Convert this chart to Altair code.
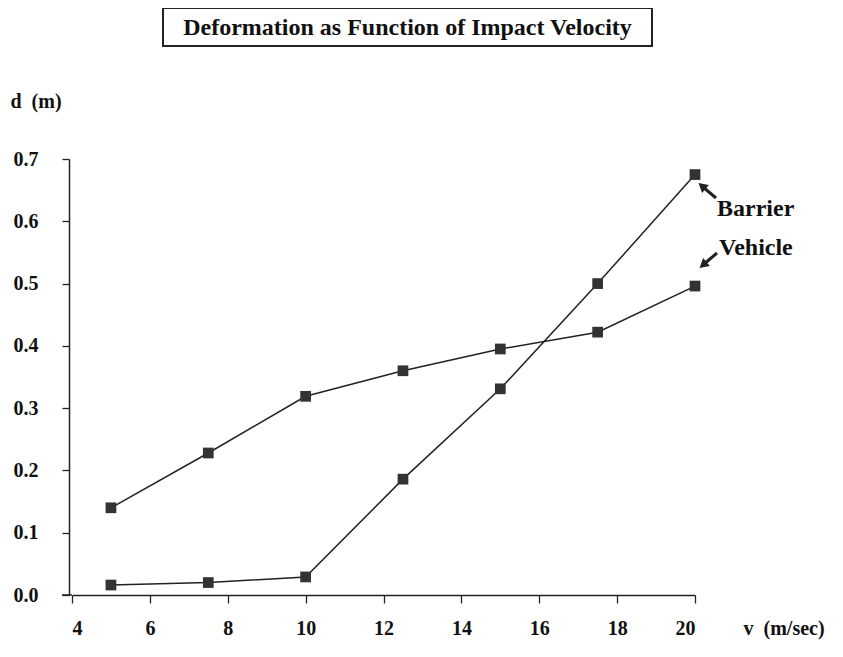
import altair as alt
import pandas as pd

velocity = [5, 7.5, 10, 12.5, 15, 17.5, 20]
vehicle = [0.14, 0.228, 0.319, 0.36, 0.395, 0.422, 0.496]
barrier = [0.016, 0.02, 0.029, 0.186, 0.331, 0.5, 0.675]

rows = []
for v, a, b in zip(velocity, vehicle, barrier):
    rows.append({"v": v, "d": a, "series": "Vehicle"})
    rows.append({"v": v, "d": b, "series": "Barrier"})
df = pd.DataFrame(rows)

FONT = "Liberation Serif"
W, H = 623, 436
one = pd.DataFrame({"a": [0]})

base = alt.Chart(df).encode(
    x=alt.X("v:Q", scale=alt.Scale(domain=[4, 20], nice=False, zero=False),
            axis=alt.Axis(values=[4, 6, 8, 10, 12, 14, 16, 18, 20], title="v\u00a0\u00a0(m/sec)",
                          grid=False, tickSize=8, labelPadding=25, labelBaseline="middle",
                          titleX=671, titleY=33, titleAlign="left", titleBaseline="middle",
                          titleAnchor="start")),
    y=alt.Y("d:Q", scale=alt.Scale(domain=[0, 0.7], nice=False),
            axis=alt.Axis(values=[0, 0.1, 0.2, 0.3, 0.4, 0.5, 0.6, 0.7], format=".1f",
                          title="d\u00a0\u00a0(m)", grid=False, tickSize=7, labelPadding=24,
                          offset=3,
                          titleAngle=0, titleX=-59, titleY=-58, titleAlign="left",
                          titleBaseline="middle", titleAnchor="start")),
    detail="series:N",
)

lines = base.mark_line(color="#222", strokeWidth=1.5)
points = base.mark_point(shape="square", filled=True, size=115, color="#333", opacity=1)

# x-axis line extension to the left of the y axis
xext = alt.Chart(one).mark_rule(color="#222", strokeWidth=1.5).encode(
    x=alt.value(-10), x2=alt.value(0), y=alt.value(H), y2=alt.value(H))

# title box
box = alt.Chart(one).mark_rect(
    fill="white", stroke="#222", strokeWidth=2
).encode(x=alt.value(91), x2=alt.value(580), y=alt.value(-151), y2=alt.value(-113))
title_txt = alt.Chart(pd.DataFrame({"t": ["Deformation as Function of Impact Velocity"]})).mark_text(
    font=FONT, fontSize=24, fontWeight="bold", align="center", baseline="middle", color="#111"
).encode(text="t:N", x=alt.value(335.5), y=alt.value(-131))

# annotations
lab_b = alt.Chart(pd.DataFrame({"t": ["Barrier"]})).mark_text(
    font=FONT, fontSize=24, fontWeight="bold", align="left", baseline="middle", color="#111"
).encode(text="t:N", x=alt.value(645), y=alt.value(50))
lab_v = alt.Chart(pd.DataFrame({"t": ["Vehicle"]})).mark_text(
    font=FONT, fontSize=24, fontWeight="bold", align="left", baseline="middle", color="#111"
).encode(text="t:N", x=alt.value(647), y=alt.value(89))

shaft_b = alt.Chart(one).mark_rule(color="#222", strokeWidth=3).encode(
    x=alt.value(644), x2=alt.value(631), y=alt.value(39), y2=alt.value(28))
shaft_v = alt.Chart(one).mark_rule(color="#222", strokeWidth=3).encode(
    x=alt.value(645), x2=alt.value(632), y=alt.value(94), y2=alt.value(105))
head_b = alt.Chart(one).mark_point(
    shape="triangle-up", filled=True, size=110, color="#222", opacity=1, angle=310
).encode(x=alt.value(630), y=alt.value(27))
head_v = alt.Chart(one).mark_point(
    shape="triangle-up", filled=True, size=110, color="#222", opacity=1, angle=230
).encode(x=alt.value(631), y=alt.value(106))

chart = alt.layer(
    lines, points, xext, box, title_txt, lab_b, lab_v, shaft_b, shaft_v, head_b, head_v
).properties(
    width=W, height=H,
    autosize=alt.AutoSizeParams(type="none"),
    padding={"left": 64, "top": 151, "right": 140, "bottom": 54},
).configure_view(stroke=None).configure_axis(
    labelFont=FONT, labelFontSize=20, labelFontWeight="bold", labelColor="#111",
    titleFont=FONT, titleFontSize=20, titleFontWeight="bold", titleColor="#111",
    domainColor="#222", tickColor="#222", domainWidth=1.5, tickWidth=1.3,
)

chart.save("out.html", embed_options={"renderer": "svg", "actions": False})
